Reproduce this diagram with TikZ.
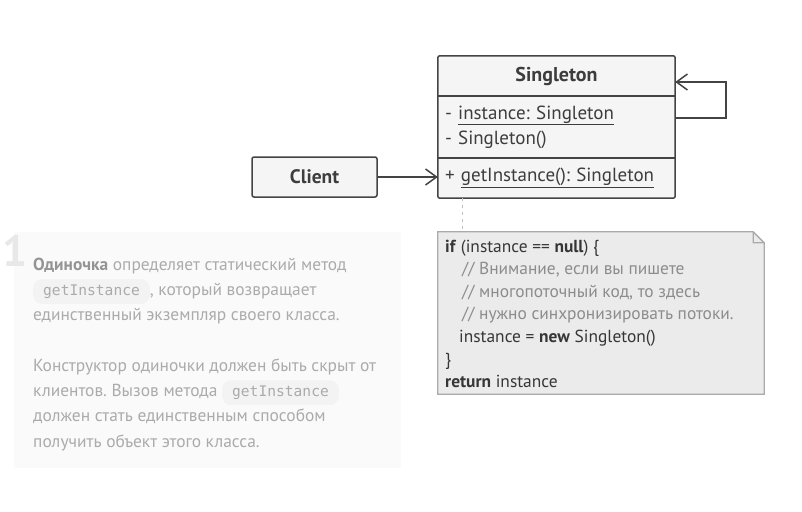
\documentclass[tikz,border=0pt]{standalone}
\usepackage{fontspec}
\setmainfont{PT Sans}
\setmonofont{DejaVu Sans Mono}
\usetikzlibrary{positioning,calc,arrows.meta}
\definecolor{umldark}{HTML}{444444}
\definecolor{umlbg}{HTML}{F5F5F5}
\definecolor{notebg}{HTML}{EBEBEB}
\definecolor{noteline}{HTML}{AAAAAA}
\definecolor{notegray}{HTML}{8C8C8C}
\definecolor{panelbg}{HTML}{FAFAFA}
\definecolor{paneltext}{HTML}{ABABAB}
\definecolor{panelbold}{HTML}{949494}
\definecolor{pillbg}{HTML}{F3F3F3}
\newcommand\codepill[1]{\tikz[baseline=(cp.base)]\node[fill=pillbg,rounded corners=9pt,inner xsep=10pt,inner ysep=5.5pt,font=\fontsize{14.6}{14.6}\selectfont\ttfamily](cp){#1};}
\frenchspacing
\begin{document}
\begin{tikzpicture}[x=1pt,y=-1pt,
	uml/.style={draw=umldark,line width=1.5pt},
	umlpart/.style={fill=umlbg,minimum width=237pt,inner sep=0pt,font=\fontsize{19}{25}\selectfont,text=umldark!90!black},
	opentip/.style={-{Straight Barb[length=11pt,width=16pt]}},
	]
	\useasboundingbox[fill=white] (0,0) rectangle (802,511);
	% text panel
	\node[fill=panelbg,minimum width=387pt,minimum height=236pt,inner sep=0pt] (panel) at (207.5,350) {};
	\node[anchor=base west,inner sep=0pt,text=black!9,font=\fontsize{44}{44}\selectfont\bfseries] (num) at (2,266) {1};
	\path foreach \i[count=\k] in {%
		{\textcolor{panelbold}{\textbf{Одиночка}} определяет статический метод},
		{\codepill{getInstance}, который возвращает},
		{единственный экземпляр своего класса.},
		{},
		{Конструктор одиночки должен быть скрыт от},
		{клиентов. Вызов метода \codepill{getInstance}},
		{должен стать единственным способом},
		{получить объект этого класса.}}
		{(33,{270+25.3*(\k-1)}) node[anchor=base west,inner sep=0pt,text=paneltext,font=\fontsize{17.4}{17.4}\selectfont](t\k){\i}};
	% class
	\node[umlpart,minimum height=40pt,font=\fontsize{20}{25}\bfseries] (head) at (556.5,76) {Singleton};
	\node[umlpart,minimum height=62pt,text width=223pt,inner xsep=7pt,align=left] (attr) at (556.5,127)
		{- \underline{instance: Singleton}\\- Singleton()};
	\node[umlpart,minimum height=40pt,text width=223pt,inner xsep=7pt,align=left] (meth) at (556.5,178)
		{+ \underline{getInstance(): Singleton}};
	\draw[uml,rounded corners=2pt] (head.north west) rectangle (meth.south east);
	\draw[uml] (head.south west)--(head.south east) (attr.south west)--(attr.south east);
	\draw[uml,opentip] ($(attr.east)+(0,-9)$) -- ++(51,0) |- ($(head.east)+(0,6)$);
	\node[uml,fill=umlbg,rounded corners=2pt,minimum width=125pt,minimum height=40pt,font=\fontsize{19.5}{19.5}\bfseries,text=umldark!90!black] (client) at (314.5,177) {Client};
	\draw[uml,opentip] (client) -- (client -| meth.west);
	% note
	\node[minimum width=326pt,minimum height=162pt,inner sep=0pt] (note) at (601,313) {};
	\fill[notebg] (note.north west) -- ($(note.north east)+(-11,0)$) -- ($(note.north east)+(0,11)$) -- (note.south east) -- (note.south west) -- cycle;
	\draw[noteline,line width=1.3pt] (note.north west) -- ($(note.north east)+(-11,0)$) -- ($(note.north east)+(0,11)$) -- (note.south east) -- (note.south west) -- cycle
		($(note.north east)+(-11,0)$) |- ($(note.north east)+(0,11)$);
	\coordinate (dl) at ($(meth.south west)+(25,0)$);
	\draw[black!25,line width=1.3pt,dash pattern=on 3pt off 4pt] (dl) -- (dl |- note.north);
	\path foreach \i[count=\k] in {%
		{\textbf{if} (instance == \textbf{null}) \{},
		{\hspace{17pt}\textcolor{notegray}{// Внимание, если вы пишете}},
		{\hspace{17pt}\textcolor{notegray}{// многопоточный код, то здесь}},
		{\hspace{17pt}\textcolor{notegray}{// нужно синхронизировать потоки.}},
		{\hspace{14pt}instance = \textbf{new} Singleton()},
		{\}},
		{\textbf{return} instance}}
		{(445,{252+22.6*(\k-1)}) node[anchor=base west,inner sep=0pt,text=umldark!80!black,font=\fontsize{17.4}{17.4}\selectfont](n\k){\i}};
\end{tikzpicture}
\end{document}
